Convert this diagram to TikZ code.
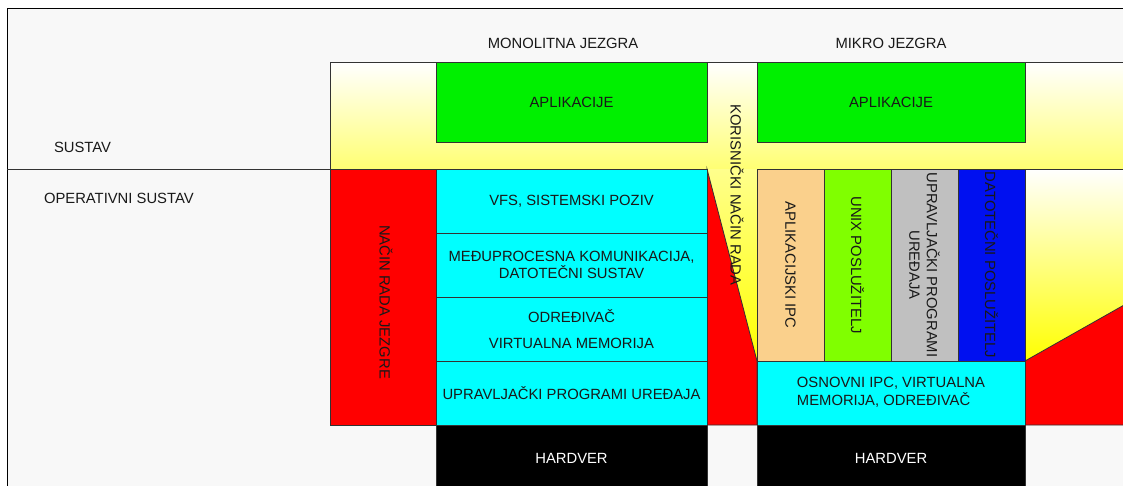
\documentclass[tikz,border=0pt]{standalone}
\usepackage{fontspec}
\setmainfont{Liberation Sans}
\definecolor{bg}{HTML}{F8F8F8}
\definecolor{appgreen}{HTML}{00F000}
\definecolor{kcyan}{HTML}{00FFFF}
\definecolor{ipcorange}{HTML}{FAD08C}
\definecolor{unixgreen}{HTML}{80FF00}
\definecolor{drvgrey}{HTML}{C0C0C0}
\definecolor{fsblue}{HTML}{0010F0}
\definecolor{lineclr}{HTML}{333333}
\begin{document}
\begin{tikzpicture}[x=1pt,y=-1pt,
  every node/.style={font=\fontsize{14.8}{17.5}\selectfont, text=black!90, inner sep=0pt, outer sep=0pt},
  edge/.style={draw=lineclr, line width=0.8pt},
  blk/.style={edge, rectangle, anchor=north west, align=center},
  vblk/.style={edge, rectangle, anchor=center, rotate=-90, align=center, minimum width=192, minimum height=67},
  vtext/.style={rotate=-90, align=center}
]
\useasboundingbox (0,0) rectangle (1123,485);
\clip (0,0) rectangle (1123,485);
\fill[white] (0,0) rectangle (1123,485);
\filldraw[fill=bg, draw=black, line width=0.8pt] (7,8) rectangle (1140,500);

% user mode areas (gradient)
\shade[top color=white, bottom color=yellow!55] (330,62) rectangle (1140,169);
\shade[top color=yellow!45, bottom color=yellow] (707,169) -- (757,169) -- (757,361) -- cycle;
\shade[top color=white, bottom color=yellow] (1025,169) -- (1140,169) -- (1140,296) -- (1025,361) -- cycle;

% kernel mode areas
\filldraw[fill=red, edge] (330,169) rectangle (436,425);
\filldraw[fill=red, edge] (707,169) -- (757,361) -- (757,425) -- (707,425) -- cycle;
\filldraw[fill=red, edge] (1025,361) -- (1140,296) -- (1140,425) -- (1025,425) -- cycle;

% separator lines
\draw[edge] (7,169) -- (330,169);
\draw[edge] (330,169) -- (330,62) -- (1140,62);
\draw[edge] (1025,169) -- (1140,169);

% titles
\node (tmono) at (563,43) {MONOLITNA JEZGRA};
\node (tmikro) at (891,43) {MIKRO JEZGRA};
\node[anchor=west] (tsustav) at (54,147) {SUSTAV};
\node[anchor=west] (tos) at (44,198) {OPERATIVNI SUSTAV};

% monolithic kernel
\node[blk, fill=appgreen, minimum width=271, minimum height=80] (appL) at (436,62) {APLIKACIJE};
\node[blk, fill=kcyan, minimum width=271, minimum height=64] (vfs) at (436,169) {VFS, SISTEMSKI POZIV};
\node[blk, fill=kcyan, minimum width=271, minimum height=64] (ipcL) at (436,233) {MEĐUPROCESNA KOMUNIKACIJA,\\DATOTEČNI SUSTAV};
\node[blk, fill=kcyan, minimum width=271, minimum height=64] (sched) at (436,297) {ODREĐIVAČ\\[8pt]VIRTUALNA MEMORIJA};
\node[blk, fill=kcyan, minimum width=271, minimum height=64] (drvL) at (436,361) {UPRAVLJAČKI PROGRAMI UREĐAJA};
\node[blk, fill=black, text=white, minimum width=271, minimum height=70] (hwL) at (436,425) {\raisebox{3pt}{HARDVER}};
\node[vtext] (kmode) at (386,302) {NAČIN RADA JEZGRE};
\node[vtext] (umode) at (737,195) {KORISNIČKI NAČIN RADA};

% micro kernel
\node[blk, fill=appgreen, minimum width=268, minimum height=80] (appR) at (757,62) {APLIKACIJE};
\node[vblk, fill=ipcorange] (aipc) at (790.5,265) {APLIKACIJSKI IPC};
\node[vblk, fill=unixgreen] (unix) at (857.5,265) {UNIX POSLUŽITELJ};
\node[vblk, fill=drvgrey] (drvR) at (924.5,265) {UPRAVLJAČKI PROGRAMI\\UREĐAJA};
\node[vblk, fill=fsblue] (fs) at (991.5,265) {DATOTEČNI POSLUŽITELJ};
\node[blk, fill=kcyan, minimum width=268, minimum height=64] (core) at (757,361) {\begin{tabular}{@{}l@{}}OSNOVNI IPC, VIRTUALNA\\MEMORIJA, ODREĐIVAČ\end{tabular}};
\node[blk, fill=black, text=white, minimum width=268, minimum height=70] (hwR) at (757,425) {\raisebox{3pt}{HARDVER}};
\end{tikzpicture}
\end{document}
